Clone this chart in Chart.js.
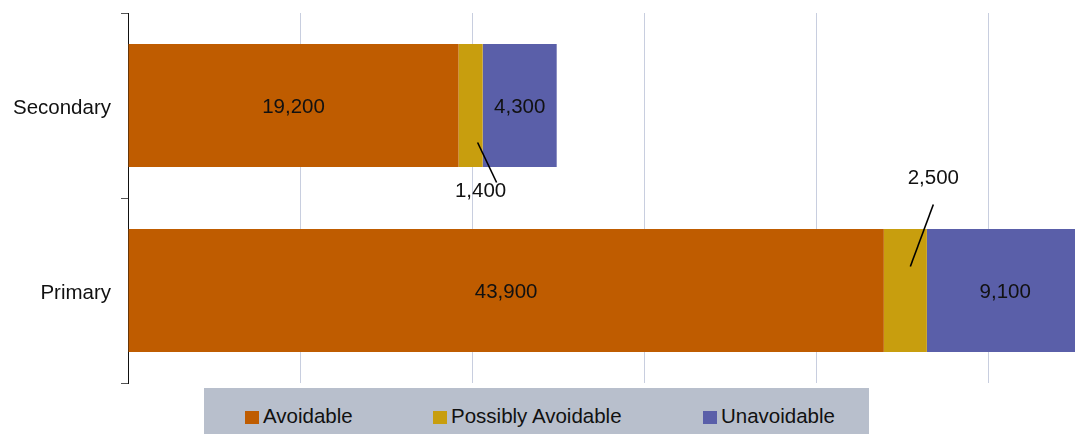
<!DOCTYPE html>
<html>
<head>
<meta charset="utf-8">
<script src="https://cdn.jsdelivr.net/npm/chart.js@4/dist/chart.umd.min.js"></script>
<style>
  body { margin: 0; overflow: hidden; background: #fff; width: 1075px; height: 434px; position: relative; }
  #wrap { position: absolute; left: 0; top: 0; }
  #legend {
    position: absolute; left: 204px; top: 388px; width: 665px; height: 50px;
    background: #b8bfcc; font-family: "Liberation Sans", Arial, sans-serif;
    font-size: 20.5px; color: #111;
  }
  #legend .item { position: absolute; top: 16px; height: 24px; line-height: 24px; white-space: nowrap; }
  #legend .box { display: inline-block; width: 14px; height: 13px; margin-right: 4px; vertical-align: -1px; }
</style>
</head>
<body>
<div id="wrap"><canvas id="barChart" width="1170" height="388"></canvas></div>
<div id="legend"></div>
<script>
// categories and series
var categories = ['Secondary', 'Primary'];
var avoidable = [19200, 43900];
var possiblyAvoidable = [1400, 2500];
var unavoidable = [4300, 9100];

var seriesNames = ['Avoidable', 'Possibly Avoidable', 'Unavoidable'];
var seriesColors = ['#bf5c00', '#c89e0e', '#5a5fa9'];

var fontFamily = '"Liberation Sans", Arial, sans-serif';
var labelFont = '20.5px ' + fontFamily;

// small segments get their number outside the bar with a leader line
// offsets are in pixels from the segment centre: [textX, textY, lineStartX, lineStartY, lineEndX, lineEndY]
var callouts = {
    '1': { 0: [10, 86, 7, 37, 26, 77], 1: [28, -112, 28, -86, 5, -24] }
};

var valueLabels = {
    id: 'valueLabels',
    afterDatasetsDraw: function (chart) {
        var ctx = chart.ctx;
        ctx.save();
        ctx.font = labelFont;
        ctx.fillStyle = '#111';
        ctx.textAlign = 'center';
        ctx.textBaseline = 'middle';
        chart.data.datasets.forEach(function (ds, di) {
            var meta = chart.getDatasetMeta(di);
            meta.data.forEach(function (bar, i) {
                var cx = (bar.x + bar.base) / 2;
                var cy = bar.y;
                var text = ds.data[i].toLocaleString('en-US');
                var c = callouts[di] && callouts[di][i];
                if (c) {
                    ctx.beginPath();
                    ctx.strokeStyle = '#000';
                    ctx.lineWidth = 1.6;
                    ctx.moveTo(cx + c[2], cy + c[3]);
                    ctx.lineTo(cx + c[4], cy + c[5]);
                    ctx.stroke();
                    ctx.fillText(text, cx + c[0], cy + c[1]);
                } else {
                    ctx.fillText(text, cx, cy + 2);
                }
            });
        });
        ctx.restore();
    }
};

var datasets = [avoidable, possiblyAvoidable, unavoidable].map(function (values, i) {
    return {
        label: seriesNames[i],
        data: values,
        backgroundColor: seriesColors[i],
        borderWidth: 0,
        barPercentage: 0.665,
        categoryPercentage: 1.0
    };
});

var chart = new Chart(document.getElementById('barChart'), {
    type: 'bar',
    data: { labels: categories, datasets: datasets },
    options: {
        indexAxis: 'y',
        responsive: false,
        animation: false,
        devicePixelRatio: 1,
        layout: { padding: { top: 13, right: 9, bottom: 5, left: 0 } },
        plugins: {
            legend: { display: false },
            tooltip: { enabled: false }
        },
        scales: {
            x: {
                stacked: true,
                min: 0,
                max: 60000,
                ticks: { display: false, stepSize: 10000 },
                grid: { color: '#c8cedf', lineWidth: 1, drawTicks: false },
                border: { display: false },
                afterFit: function (scale) {
                    scale.height = 0;
                    scale.paddingLeft = 0;
                    scale.paddingRight = 0;
                }
            },
            y: {
                stacked: true,
                ticks: {
                    color: '#111',
                    font: { family: fontFamily, size: 20.5 },
                    padding: 10,
                    labelOffset: 3
                },
                grid: { drawOnChartArea: false, tickLength: 7, color: '#555' },
                border: { color: '#111', width: 1 },
                afterFit: function (scale) {
                    scale.width = 128;
                    scale.paddingTop = 0;
                    scale.paddingBottom = 0;
                }
            }
        }
    },
    plugins: [valueLabels]
});

// legend row under the chart
var legendLeft = [41, 229, 499];
var legend = document.getElementById('legend');
seriesNames.forEach(function (name, i) {
    var item = document.createElement('div');
    item.className = 'item';
    item.style.left = legendLeft[i] + 'px';
    item.innerHTML = '<span class="box" style="background:' + seriesColors[i] + '"></span>' + name;
    legend.appendChild(item);
});
</script>
</body>
</html>
